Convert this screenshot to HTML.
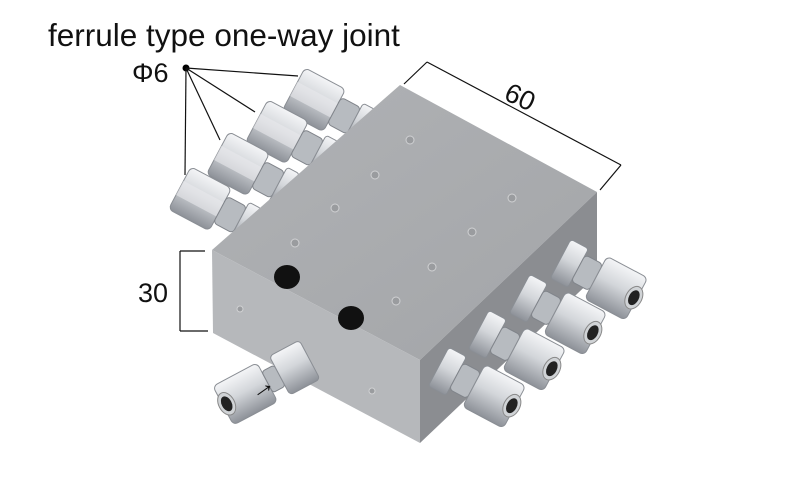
<!DOCTYPE html>
<html><head><meta charset="utf-8"><style>
html,body{margin:0;padding:0;background:#fff;width:790px;height:498px;overflow:hidden}
svg{display:block}
text{font-family:"Liberation Sans",sans-serif;fill:#111}
</style></head><body>
<svg width="790" height="498" viewBox="0 0 790 498">
<defs>
<linearGradient id="nut" x1="0" y1="0" x2="0" y2="1"><stop offset="0" stop-color="#f4f5f7"/><stop offset="0.45" stop-color="#d3d6da"/><stop offset="1" stop-color="#8d9198"/></linearGradient>
<linearGradient id="top" x1="0" y1="0" x2="1" y2="1"><stop offset="0" stop-color="#b0b2b5"/><stop offset="1" stop-color="#a3a5a8"/></linearGradient>
<g id="fitL">
<rect x="-32" y="-24" width="46" height="48" rx="5" fill="url(#nut)" stroke="#8a8e94"/>
<rect x="-32" y="-8" width="46" height="16" fill="#e9eaec" opacity="0.6"/>
<rect x="14" y="-15" width="22" height="30" rx="4" fill="#b7bbc0" stroke="#80848a"/>
<rect x="36" y="-20" width="14" height="40" rx="3" fill="url(#nut)" stroke="#8a8e94"/>
</g>
<g id="fitR">
<rect x="-56" y="-22" width="20" height="44" rx="3" fill="url(#nut)" stroke="#8a8e94"/>
<rect x="-36" y="-15" width="20" height="30" rx="4" fill="#b7bbc0" stroke="#80848a"/>
<rect x="-16" y="-24" width="46" height="48" rx="5" fill="url(#nut)" stroke="#8a8e94"/>
<ellipse cx="27" cy="0" rx="8" ry="12" fill="#d0d3d6" stroke="#888"/>
<ellipse cx="27" cy="0" rx="5" ry="8" fill="#222"/>
</g>
</defs>

<text x="48" y="46" font-size="31.5">ferrule type one-way joint</text>
<text x="132" y="82" font-size="27">Φ6</text>
<circle cx="186" cy="68" r="3.5" fill="#000"/>
<g stroke="#111" stroke-width="1.2">
<line x1="186" y1="68" x2="298" y2="76"/>
<line x1="186" y1="68" x2="255" y2="112"/>
<line x1="186" y1="68" x2="220" y2="140"/>
<line x1="186" y1="68" x2="185" y2="175"/>
<line x1="427" y1="62" x2="621" y2="165"/>
<line x1="427" y1="62" x2="404" y2="84"/>
<line x1="621" y1="165" x2="600" y2="190"/>
<line x1="180" y1="251" x2="180" y2="331"/>
<line x1="180" y1="251" x2="205" y2="251"/>
<line x1="180" y1="331" x2="208" y2="331"/>
</g>
<text x="506" y="106" font-size="27" transform="rotate(25 520 95)">60</text>
<text x="138" y="302" font-size="27">30</text>

<g transform="translate(322,104) rotate(28)"><use href="#fitL"/></g>
<g transform="translate(285,136) rotate(28)"><use href="#fitL"/></g>
<g transform="translate(246,168) rotate(28)"><use href="#fitL"/></g>
<g transform="translate(208,203) rotate(28)"><use href="#fitL"/></g>

<polygon points="212,250 400,85 597,192 420,360" fill="url(#top)"/>
<polygon points="212,250 420,360 420,443 213,333" fill="#b6b8bb"/>
<polygon points="420,360 597,192 597,275 420,443" fill="#8b8d91"/>
<g fill="#9a9c9f" stroke="#d0d1d3">
<circle cx="410" cy="140" r="4"/><circle cx="375" cy="175" r="4"/><circle cx="335" cy="208" r="4"/>
<circle cx="295" cy="243" r="4"/><circle cx="512" cy="198" r="4"/><circle cx="472" cy="232" r="4"/>
<circle cx="432" cy="267" r="4"/><circle cx="396" cy="301" r="4"/><circle cx="240" cy="309" r="3"/><circle cx="372" cy="391" r="3"/>
</g>
<ellipse cx="287" cy="277" rx="13" ry="12" fill="#111"/>
<ellipse cx="351" cy="318" rx="13" ry="12" fill="#111"/>

<g transform="translate(610,285) rotate(28)"><use href="#fitR"/></g>
<g transform="translate(569,320) rotate(28)"><use href="#fitR"/></g>
<g transform="translate(528,356) rotate(28)"><use href="#fitR"/></g>
<g transform="translate(488,393) rotate(28)"><use href="#fitR"/></g>

<g transform="translate(262,385) rotate(-28)">
<rect x="-44" y="-22" width="50" height="44" rx="5" fill="url(#nut)" stroke="#8a8e94"/>
<rect x="6" y="-12" width="14" height="24" rx="3" fill="#b7bbc0" stroke="#80848a"/>
<rect x="20" y="-22" width="34" height="44" rx="4" fill="url(#nut)" stroke="#8a8e94"/>
<ellipse cx="-40" cy="0" rx="8" ry="12" fill="#d0d3d6" stroke="#888"/>
<ellipse cx="-40" cy="0" rx="5" ry="8" fill="#222"/>
</g>
<text x="248" y="395" font-size="26" font-weight="bold" transform="rotate(-35 262 386)">→</text>
</svg>
</body></html>
